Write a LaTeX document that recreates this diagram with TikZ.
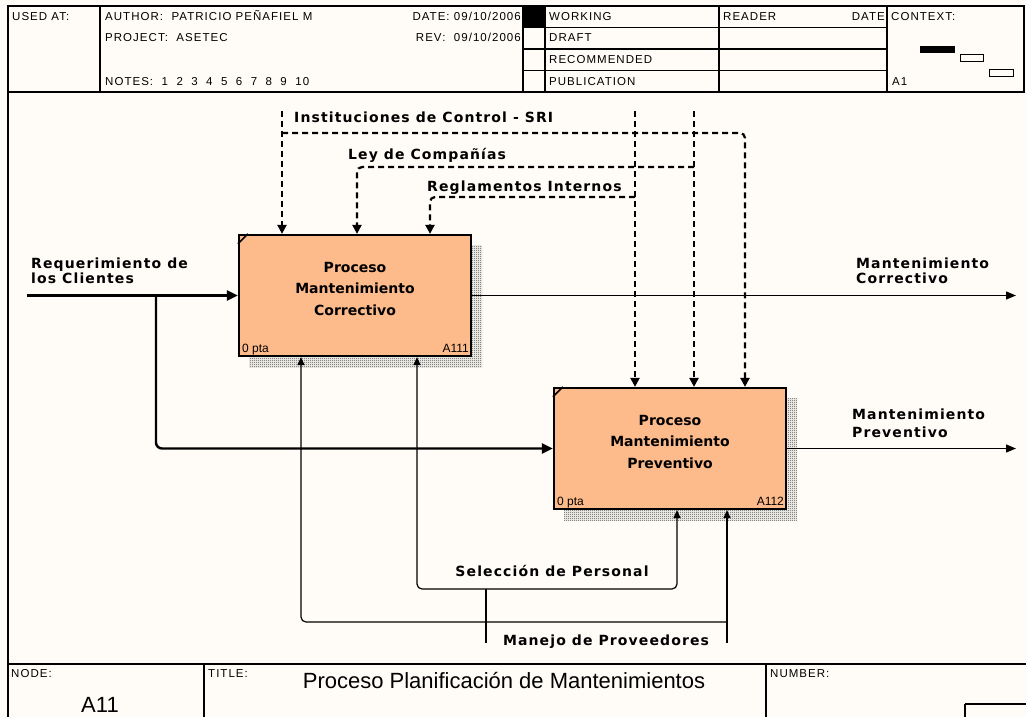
\documentclass[tikz,border=0pt]{standalone}
\usepackage{fontspec}
\setmainfont{Liberation Sans}
\newfontfamily\hdrfont[LetterSpace=9]{Liberation Sans}
\newfontfamily\lblfont[LetterSpace=8]{DejaVu Sans}
\newfontfamily\boxfont{DejaVu Sans}
\usetikzlibrary{arrows.meta,patterns}
\definecolor{paper}{RGB}{255,252,247}
\definecolor{procfill}{RGB}{253,186,138}
\definecolor{shade}{RGB}{70,70,70}

% fine checkerboard used for the box shadows
\pgfdeclarepatternformonly{checker}{\pgfpointorigin}{\pgfpoint{2pt}{2pt}}{\pgfpoint{2pt}{2pt}}{%
  \pgfpathrectangle{\pgfpointorigin}{\pgfpoint{1pt}{1pt}}%
  \pgfpathrectangle{\pgfpoint{1pt}{1pt}}{\pgfpoint{1pt}{1pt}}%
  \pgfusepath{fill}}

\begin{document}
\begin{tikzpicture}[x=1pt,y=-1pt,
  frame/.style={line width=1.1pt, black},
  hdr/.style={font=\hdrfont\fontsize{11.5}{13}\selectfont, inner sep=0pt, anchor=base west},
  tag/.style={font=\hdrfont\fontsize{11.5}{12}\selectfont, inner sep=0pt, anchor=base west},
  big/.style={font=\fontsize{22}{25}\selectfont, inner sep=0pt},
  proc/.style={draw, line width=2.2pt, fill=procfill, minimum width=232pt, minimum height=121pt, inner sep=0pt},
  proctext/.style={font=\boxfont\bfseries\fontsize{14}{21.5}\selectfont, align=center, inner sep=0pt},
  boxtag/.style={font=\fontsize{12}{13}\selectfont, inner sep=0pt},
  lbl/.style={font=\lblfont\bfseries\fontsize{14}{15}\selectfont, inner sep=0pt, anchor=base west},
  ctrl/.style={line width=2.2pt, dash pattern=on 6pt off 4pt, -{Triangle[length=9pt,width=9pt]}},
  ctrlbranch/.style={ctrl, rounded corners=5pt},
  inflow/.style={line width=2.4pt, rounded corners=6pt, -{Triangle[length=11pt,width=10pt]}},
  outflow/.style={line width=1.3pt, -{Triangle[length=10pt,width=8pt]}},
  mechline/.style={line width=1.2pt, rounded corners=5pt},
  mech/.style={mechline, -{Triangle[length=8pt,width=7pt]}},
  hatch/.style={pattern=checker, pattern color=shade},
]
\useasboundingbox (0,0) rectangle (1026,717);
\fill[paper] (0,0) rectangle (1026,717);

% ---------- header block ----------
\draw[frame] (8,6) rectangle (1024,92);
\draw[frame] (100,6) -- (100,92);
\draw[frame] (523,6) -- (523,92);
\draw[frame] (545,6) -- (545,92);
\draw[frame] (719,6) -- (719,92);
\draw[frame] (887,6) -- (887,92);
\foreach \y in {27.5,49,70.5} \draw[frame] (523,\y) -- (887,\y);
\fill (523,6) rectangle (545,27.5);

\node[hdr] (usedat) at (12,21) {USED AT:};
\node[hdr] (author) at (105,21) {AUTHOR:\ \ PATRICIO PEÑAFIEL M};
\node[hdr] (project) at (105,42) {PROJECT:\ \ ASETEC};
\node[hdr] (notes) at (105,85) {NOTES:\ \ 1\ \ 2\ \ 3\ \ 4\ \ 5\ \ 6\ \ 7\ \ 8\ \ 9\ \ 10};
\node[hdr, anchor=base east] (date) at (521,21) {DATE: 09/10/2006};
\node[hdr, anchor=base east] (rev) at (521,42) {REV:\ \ 09/10/2006};
\node[hdr] (working) at (549,21) {WORKING};
\node[hdr] (draft) at (549,42) {DRAFT};
\node[hdr] (recommended) at (549,64) {RECOMMENDED};
\node[hdr] (publication) at (549,85) {PUBLICATION};
\node[hdr] (reader) at (723,21) {READER};
\node[hdr, anchor=base east] (rdate) at (885,21) {DATE};
\node[hdr] (context) at (891,21) {CONTEXT:};
\node[hdr] (ctxnode) at (892,85) {A1};

% context thumbnail
\fill (920,46) rectangle (955,53);
\draw[line width=1pt] (960,55) rectangle (983,62);
\draw[line width=1pt] (989,70) rectangle (1013,77);

% ---------- diagram frame ----------
\draw[frame] (8,92) -- (8,717);
\draw[frame] (8,664) -- (1026,664);
\draw[frame] (204,664) -- (204,717);
\draw[frame] (766,664) -- (766,717);
\draw[frame] (965,704) -- (965,720);
\draw[frame] (965,704) -- (1030,704);

\node[tag] (nodetag) at (11,677) {NODE:};
\node[tag] (titletag) at (208,677) {TITLE:};
\node[tag] (numtag) at (770,677) {NUMBER:};
\node[big] (title) at (504,681) {Proceso Planificación de Mantenimientos};
\node[big] (nodenum) at (100,705) {A11};

% ---------- activity boxes with hatched shadows ----------
\fill[hatch] (249,245) rectangle (482,367);
\fill[hatch] (564,398) rectangle (797,520);
\node[proc] (b1) at (355,295.5) {};
\node[proc] (b2) at (670,448.5) {};
\draw[line width=1.5pt] ([yshift=-10pt]b1.north west) -- ([xshift=10pt]b1.north west);
\draw[line width=1.5pt] ([yshift=-10pt]b2.north west) -- ([xshift=10pt]b2.north west);
\node[proctext] (t1) at ([yshift=7pt]b1.center) {Proceso\\Mantenimiento\\Correctivo};
\node[proctext] (t2) at ([yshift=7pt]b2.center) {Proceso\\Mantenimiento\\Preventivo};
\node[boxtag, anchor=base west] (c1) at ([xshift=4pt,yshift=5pt]b1.south west) {0 pta};
\node[boxtag, anchor=base east] (n1) at ([xshift=-3pt,yshift=5pt]b1.south east) {A111};
\node[boxtag, anchor=base west] (c2) at ([xshift=4pt,yshift=5pt]b2.south west) {0 pta};
\node[boxtag, anchor=base east] (n2) at ([xshift=-3pt,yshift=5pt]b2.south east) {A112};

% ---------- controls ----------
\coordinate (instS) at (282,111);
\coordinate (instJ) at (282,133);
\coordinate (instR) at (745,133);
\draw[ctrl] (instS) -- (instS |- b1.north);
\draw[ctrlbranch] (instJ) -- (instR) -- (instR |- b2.north);

\coordinate (leyS) at (694,111);
\coordinate (leyJ) at (694,167);
\coordinate (leyL) at (357,167);
\draw[ctrl] (leyS) -- (leyS |- b2.north);
\draw[ctrlbranch] (leyJ) -- (leyL) -- (leyL |- b1.north);

\coordinate (regS) at (635,111);
\coordinate (regJ) at (635,197);
\coordinate (regL) at (430,197);
\draw[ctrl] (regS) -- (regS |- b2.north);
\draw[ctrlbranch] (regJ) -- (regL) -- (regL |- b1.north);

\node[lbl] (lInst) at (294,122) {Instituciones de Control - SRI};
\node[lbl] (lLey) at (348,159) {Ley de Compañías};
\node[lbl] (lReg) at (427,191) {Reglamentos Internos};

% ---------- input ----------
\coordinate (reqS) at (27,295.5);
\coordinate (reqJ) at (156,295.5);
\draw[inflow] (reqS) -- (reqS -| b1.west);
\draw[inflow] (reqJ) -- (reqJ |- b2.west) -- (b2.west);
\node[lbl] (lReq1) at (31,268) {Requerimiento de};
\node[lbl] (lReq2) at (31,283) {los Clientes};

% ---------- outputs ----------
\coordinate (o1) at (1016,295.5);
\coordinate (o2) at (1016,448.5);
\draw[outflow] (b1.east) -- (o1);
\draw[outflow] (b2.east) -- (o2);
\node[lbl] (lOut1a) at (856,268) {Mantenimiento};
\node[lbl] (lOut1b) at (856,283) {Correctivo};
\node[lbl] (lOut2a) at (852,419) {Mantenimiento};
\node[lbl] (lOut2b) at (852,437) {Preventivo};

% ---------- mechanisms ----------
\coordinate (selS) at (486,643);
\coordinate (selJ) at (486,589);
\coordinate (selL) at (417,589);
\coordinate (selR) at (677,589);
\draw[mechline] (selS) -- (selJ);
\draw[mech] (selJ) -- (selL) -- (selL |- b1.south);
\draw[mech] (selJ) -- (selR) -- (selR |- b2.south);

\coordinate (manS) at (727,643);
\coordinate (manJ) at (727,622);
\coordinate (manL) at (301,622);
\draw[mech] (manS) -- (manS |- b2.south);
\draw[mech] (manJ) -- (manL) -- (manL |- b1.south);

\node[lbl, anchor=base] (lSel) at (552,576) {Selección de Personal};
\node[lbl, anchor=base] (lMan) at (606,645) {Manejo de Proveedores};
\end{tikzpicture}
\end{document}
